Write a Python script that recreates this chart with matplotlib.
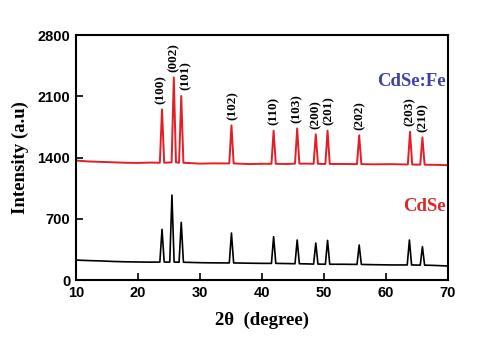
import numpy as np
import matplotlib
matplotlib.use('Agg')
import matplotlib.pyplot as plt

# XRD peaks (2theta, intensity)
hkl = ['(100)', '(002)', '(101)', '(102)', '(110)', '(103)', '(200)', '(201)', '(202)', '(203)', '(210)']
fe_pos = [23.9, 25.8, 27.0, 35.1, 41.9, 45.7, 48.7, 50.6, 55.7, 63.9, 65.9]
fe_peak = [1950, 2316, 2103, 1768, 1707, 1733, 1665, 1707, 1653, 1695, 1630]
fe_foot = [1340, 1345, 1340, 1332, 1328, 1330, 1328, 1326, 1324, 1320, 1318]
cdse_pos = [23.9, 25.5, 27.0, 35.1, 41.9, 45.7, 48.7, 50.6, 55.7, 63.8, 65.9]
cdse_peak = [579, 971, 659, 537, 495, 457, 423, 453, 400, 457, 381]
cdse_foot = [205, 205, 203, 195, 190, 186, 182, 180, 178, 172, 170]

# background knots between peaks
bg_x = [10, 12, 14, 16, 18, 20, 22, 30, 32, 38, 40, 44, 47.3, 53, 58, 61, 68, 70]
fe_bg = [1365, 1355, 1350, 1345, 1340, 1338, 1342, 1330, 1333, 1325, 1328, 1326, 1330, 1326, 1322, 1324, 1316, 1312]
cdse_bg = [228, 222, 218, 212, 208, 206, 204, 198, 196, 192, 190, 188, 184, 180, 175, 172, 166, 160]

label_x = [23.7, 25.8, 27.7, 35.3, 41.9, 45.6, 48.7, 50.8, 55.8, 63.9, 66.0]


def build_trace(pos, peak, foot, bx, by, hw=0.35):
    xs = list(bx)
    ys = list(by)
    for p, h, f in zip(pos, peak, foot):
        xs += [p - hw, p, p + hw]
        ys += [f, h, f]
    order = np.argsort(xs)
    return np.array(xs)[order], np.array(ys)[order]


fig = plt.figure(figsize=(4.8, 3.5), dpi=100)
ax = fig.add_axes([0.158, 0.2, 0.775, 0.7])

x1, y1 = build_trace(cdse_pos, cdse_peak, cdse_foot, bg_x, cdse_bg)
x2, y2 = build_trace(fe_pos, fe_peak, fe_foot, bg_x, fe_bg)
ax.plot(x1, y1, color='black', lw=1.2)
ax.plot(x2, y2, color='#e41e26', lw=1.4)

for lbl, lx, h in zip(hkl, label_x, fe_peak):
    ax.annotate(lbl, (lx, h), xytext=(0, 4), textcoords='offset points',
                rotation=90, ha='center', va='bottom', fontsize=9.5,
                fontweight='bold', family='Liberation Serif')

ax.text(69.6, 2270, 'CdSe:Fe', color='#4040a8', fontsize=13.5, fontweight='bold',
        family='Liberation Serif', ha='right', va='center')
ax.text(69.6, 840, 'CdSe', color='#d82a2a', fontsize=13.5, fontweight='bold',
        family='Liberation Serif', ha='right', va='center')

ax.set_xlim(10, 70)
ax.set_ylim(0, 2800)
ax.set_xticks([10, 20, 30, 40, 50, 60, 70])
ax.set_yticks([0, 700, 1400, 2100, 2800])
ax.tick_params(direction='in', length=5, width=1.2, labelsize=10.5, pad=4)
for t in ax.get_xticklabels() + ax.get_yticklabels():
    t.set_fontweight('bold')
    t.set_family('Liberation Sans')
for s in ax.spines.values():
    s.set_linewidth(1.5)

ax.set_xlabel('2θ  (degree)', fontsize=13.5, fontweight='bold', family='Liberation Serif', labelpad=9)
ax.set_ylabel('Intensity (a.u)', fontsize=13.5, fontweight='bold', family='Liberation Serif', labelpad=6)

fig.savefig('out.png', dpi=100)
